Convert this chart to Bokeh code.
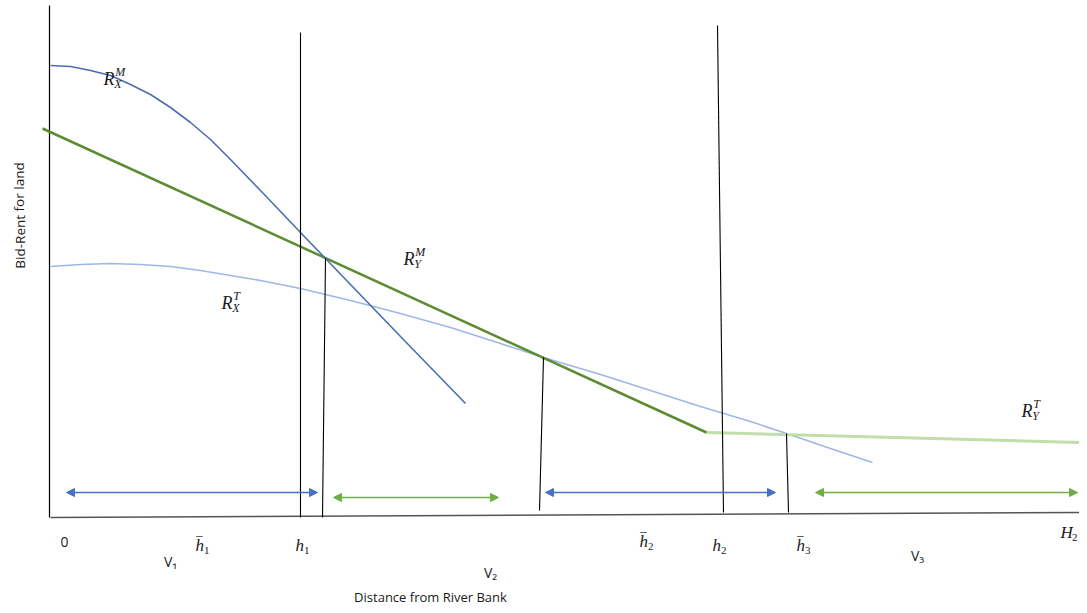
from bokeh.plotting import figure
from bokeh.models import Range1d, Arrow, NormalHead, Label
from bokeh.embed import file_html
from bokeh.resources import INLINE
from bokeh.core.properties import value

# ---- data (diagram units: distance from bank, bid-rent) ----
rxm_x = [0, 20, 40, 60, 80, 100, 120, 140, 160, 179, 210, 250, 275, 350, 415]
rxm_y = [452, 451, 447, 442, 433, 423, 410, 395, 378, 359, 327, 285, 259, 181, 114]

rym_x = [-8, 656]
rym_y = [389, 85]

ryt_x = [656, 1033]
ryt_y = [85, 75]

rxt_x = [0, 30, 60, 90, 120, 150, 180, 210, 250, 300, 350, 400, 450, 493, 550, 600, 650, 700, 736, 780, 822]
rxt_y = [251, 253, 254, 253, 251, 247, 242, 237, 229, 217, 204, 190, 174, 160, 143, 127, 111, 96, 84, 69, 55]

# vertical boundary lines (x0, y0, x1, y1)
vx0 = [250, 667, 275, 493, 736]
vy0 = [0, 492, 259, 160, 84]
vx1 = [250, 673, 272, 489, 738]
vy1 = [485, 5, 0, 7, 5]

# zone arrows
arr_x0 = [16, 283, 495, 765]
arr_x1 = [267, 448, 725, 1027]
arr_y = [25, 20, 25, 25]
arr_col = ["#4472C4", "#70AD47", "#4472C4", "#70AD47"]

p = figure(width=1079, height=605, output_backend="svg", toolbar_location=None,
           x_range=Range1d(-50, 1029), y_range=Range1d(-88, 517),
           min_border=0, outline_line_color=None)
p.axis.visible = False
p.grid.visible = False
p.background_fill_color = "white"

# axes lines
p.line([-1, -1], [512, 0], line_color="black", line_width=1.2)
p.line([0, 1037], [0, 5], line_color="#555555", line_width=1.5)

# curves
p.line(rxt_x, rxt_y, line_color="#9DB8E6", line_width=1.6)
p.line(ryt_x, ryt_y, line_color="#C0DDAA", line_width=3)
p.line(rym_x, rym_y, line_color="#5B8C32", line_width=2.5)
p.line(rxm_x, rxm_y, line_color="#4A6EB5", line_width=1.6)

# vertical lines
p.segment(vx0, vy0, vx1, vy1, line_color="black", line_width=1.1)

# arrows
for x0, x1, y, c in zip(arr_x0, arr_x1, arr_y, arr_col):
    p.add_layout(Arrow(x_start=x0, y_start=y, x_end=x1, y_end=y, line_color=c, line_width=1.5,
                       start=NormalHead(size=8, fill_color=c, line_color=c),
                       end=NormalHead(size=8, fill_color=c, line_color=c)))

SERIF = "Liberation Serif"
TC = "#1a1a1a"

def mlabel(x, y, base, sup=None, sub=None, size=18, bar=False, wf=0.6):
    p.text([x], [y], text=[base], text_font=value(SERIF), text_font_style="italic",
           text_font_size=f"{size}px", text_align="left", text_baseline="middle", text_color=TC)
    if bar:
        p.text([x], [y], text=["\u203e"], text_font=value(SERIF),
               text_font_size=f"{size}px", text_align="left", text_baseline="middle",
               y_offset=-1, x_offset=1, text_color=TC)
    w = size * wf
    ss = int(round(size * 0.66))
    if sup:
        p.text([x], [y], text=[sup], text_font=value(SERIF), text_font_style="italic",
               text_font_size=f"{ss}px", text_align="left", text_baseline="middle",
               x_offset=w + 1, y_offset=-7, text_color=TC)
    if sub:
        p.text([x], [y], text=[sub], text_font=value(SERIF), text_font_style="italic" if sub.isalpha() else "normal",
               text_font_size=f"{ss}px", text_align="left", text_baseline="middle",
               x_offset=w, y_offset=5, text_color=TC)

mlabel(53, 439, "R", "M", "X")
mlabel(353, 259, "R", "M", "Y")
mlabel(171, 215, "R", "T", "X")
mlabel(971, 107, "R", "T", "Y")

mlabel(145, -28, "h", sub="1", size=17, bar=True, wf=0.5)
mlabel(245, -28, "h", sub="1", size=17, wf=0.5)
mlabel(589, -24, "h", sub="2", size=17, bar=True, wf=0.5)
mlabel(662, -28, "h", sub="2", size=17, wf=0.5)
mlabel(746, -28, "h", sub="3", size=17, bar=True, wf=0.5)
mlabel(1010, -15, "H", sub="2", size=17, wf=0.68)

SANS = "Open Sans"
for tx, ty, t in [(14, -24, "0"), (120, -44, "V\u2081"), (440, -55, "V\u2082"), (867, -38, "V\u2083")]:
    p.text([tx], [ty], text=[t], text_font=value(SANS), text_font_size="14px",
           text_align="center", text_baseline="middle", text_color=TC)

p.add_layout(Label(x=380, y=-79, text="Distance from River Bank", text_font="Open Sans",
                   text_font_size="13px", text_align="center", text_baseline="middle", text_color=TC))
p.add_layout(Label(x=-31, y=302, text="Bid-Rent for land", text_font="Open Sans", angle=1.5708,
                   text_font_size="13.5px", text_align="center", text_baseline="middle", text_color=TC))

open("out.html", "w").write(file_html(p, INLINE))
